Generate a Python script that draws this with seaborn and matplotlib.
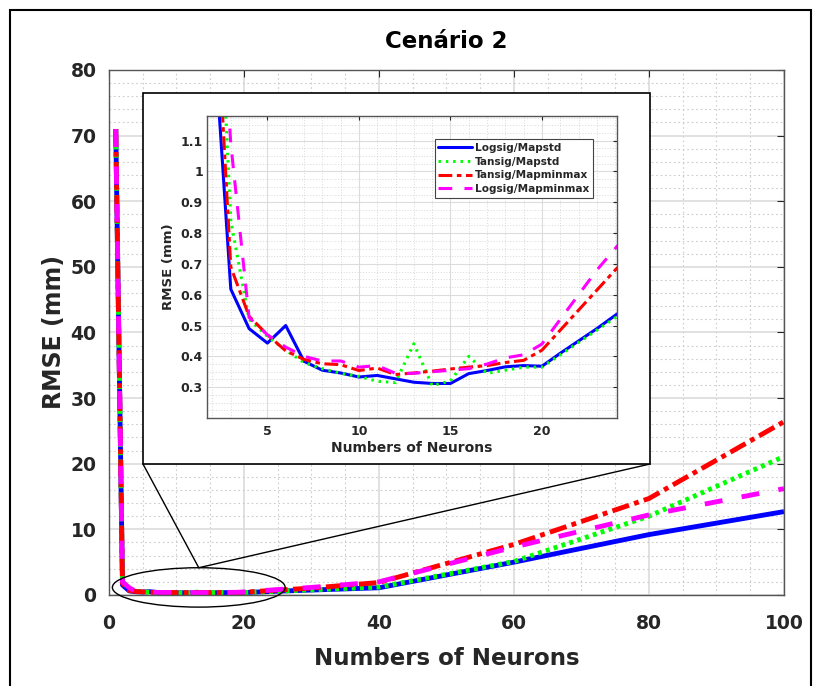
import matplotlib
matplotlib.use("Agg")
import matplotlib.pyplot as plt
import seaborn as sns
from matplotlib.lines import Line2D
from matplotlib.patches import ConnectionPatch, Ellipse, Rectangle
from matplotlib.ticker import MultipleLocator

# neurons in the hidden layer
neurons = [1, 2, 3, 4, 5, 6, 7, 8, 9, 10, 11, 12, 13, 14, 15, 16, 17, 18, 19, 20,
           21, 22, 23, 24, 25, 30, 40, 60, 80, 100]

logsig_mapstd = [71.0, 1.52, 0.618, 0.49, 0.443, 0.50, 0.384, 0.355, 0.346, 0.333,
                 0.338, 0.327, 0.316, 0.312, 0.312, 0.344, 0.354, 0.366, 0.37, 0.368,
                 0.41, 0.45, 0.49, 0.533, 0.575, 0.75, 1.1, 5.0, 9.2, 12.7]
tansig_mapstd = [71.0, 2.1, 0.84, 0.52, 0.465, 0.42, 0.38, 0.36, 0.345, 0.335,
                 0.319, 0.315, 0.441, 0.305, 0.32, 0.40, 0.345, 0.355, 0.365, 0.365,
                 0.405, 0.445, 0.485, 0.525, 0.57, 0.78, 1.2, 5.1, 12.0, 21.1]
tansig_mapminmax = [71.0, 1.78, 0.69, 0.53, 0.47, 0.418, 0.39, 0.376, 0.373, 0.354,
                    0.362, 0.341, 0.346, 0.352, 0.359, 0.365, 0.37, 0.38, 0.387, 0.42,
                    0.485, 0.55, 0.615, 0.68, 0.74, 1.05, 1.9, 7.7, 14.7, 26.4]
logsig_mapminmax = [71.0, 2.0, 1.09, 0.526, 0.47, 0.43, 0.40, 0.385, 0.385, 0.365,
                    0.37, 0.345, 0.345, 0.35, 0.355, 0.36, 0.375, 0.395, 0.405, 0.44,
                    0.52, 0.60, 0.68, 0.75, 0.82, 1.15, 2.0, 7.3, 12.2, 16.2]

series = [
    ("Logsig/Mapstd", logsig_mapstd, "#0000ff", "solid"),
    ("Tansig/Mapstd", tansig_mapstd, "#00ff00", "dotted"),
    ("Tansig/Mapminmax", tansig_mapminmax, "#ff0000", "dashdot"),
    ("Logsig/Mapminmax", logsig_mapminmax, "#ff00ff", "dashed"),
]
main_dashes = {"solid": None, "dotted": (0.8, 0.9), "dashdot": (3.6, 1.1, 1.0, 1.1),
               "dashed": (3.7, 4.0)}
inset_dashes = {"solid": None, "dotted": (0.8, 1.6), "dashdot": (4.5, 1.5, 1.5, 1.5),
                "dashed": (4.5, 4.0)}

sns.set_style("white")
plt.rcParams["font.family"] = ["DejaVu Sans"]
plt.rcParams["font.weight"] = "bold"

fig = plt.figure(figsize=(8.14, 6.86), dpi=100)
fig.patch.set_facecolor("white")
fig.add_artist(Rectangle((10 / 814, -0.01), 801 / 814, 1.01 - 10 / 686,
                         transform=fig.transFigure, fill=False, ec="black", lw=1.5))

ax = fig.add_axes([0.1339, 0.1327, 0.8292, 0.7653])


def style_axes(a, major_lw, minor_lw):
    a.grid(True, which="major", color="#dcdcdc", lw=major_lw, ls="-")
    a.grid(True, which="minor", color="#cccccc", lw=minor_lw, ls=(0, (1.5, 2.5)))
    a.set_axisbelow(True)
    for sp in a.spines.values():
        sp.set_color("#555555")
        sp.set_linewidth(1.0)
    a.tick_params(which="both", direction="in", top=True, right=True, colors="#262626")
    a.tick_params(which="minor", length=0)


for label, vals, color, style in series:
    sns.lineplot(x=neurons, y=vals, ax=ax, color=color, lw=3.5, label=label,
                 legend=False, sort=False)
    line = ax.lines[-1]
    if main_dashes[style] is not None:
        line.set_dashes(main_dashes[style])
    line.set_solid_capstyle("butt")
    line.set_dash_capstyle("butt")

ax.set_xlim(0, 100)
ax.set_ylim(0, 80)
ax.xaxis.set_major_locator(MultipleLocator(20))
ax.xaxis.set_minor_locator(MultipleLocator(5))
ax.yaxis.set_major_locator(MultipleLocator(10))
ax.yaxis.set_minor_locator(MultipleLocator(2))
style_axes(ax, 1.2, 0.8)
ax.tick_params(which="major", length=5, labelsize=13.5)
ax.tick_params(axis="x", pad=14)
ax.tick_params(axis="y", pad=9)
for t in ax.get_xticklabels() + ax.get_yticklabels():
    t.set_fontweight("bold")
    t.set_color("#262626")
ax.set_xlabel("Numbers of Neurons", fontsize=16.5, fontweight="bold", color="#262626",
              labelpad=10)
ax.set_ylabel("RMSE (mm)", fontsize=17, fontweight="bold", color="#262626", labelpad=3)
ax.set_title("Cenário 2", fontsize=16.5, fontweight="bold", color="black", pad=16)

# zoom marker on the main axes
ell_x, ell_y, ell_w, ell_h = 13.3, 1.15, 25.6, 6.0
ax.add_patch(Ellipse((ell_x, ell_y), ell_w, ell_h, fill=False, ec="black", lw=1.0,
                     clip_on=False, zorder=5))

# inset frame (pasted figure look)
box_l, box_b, box_r, box_t = 143 / 814, 222 / 686, 650 / 814, 593 / 686
fig.add_artist(Rectangle((box_l, box_b), box_r - box_l, box_t - box_b,
                         transform=fig.transFigure, fc="white", ec="black", lw=1.2,
                         zorder=3))
for corner in [(box_l, box_b), (box_r, box_b)]:
    con = ConnectionPatch(xyA=(ell_x, ell_y + ell_h / 2), coordsA=ax.transData,
                          xyB=corner, coordsB=fig.transFigure, color="black", lw=1.0,
                          zorder=2)
    fig.add_artist(con)

ins = fig.add_axes([0.2543, 0.3907, 0.5037, 0.4402], zorder=4)
ins.set_facecolor("white")
for label, vals, color, style in series:
    sns.lineplot(x=neurons, y=vals, ax=ins, color=color, lw=2.2, legend=False, sort=False)
    line = ins.lines[-1]
    if inset_dashes[style] is not None:
        line.set_dashes(inset_dashes[style])
    line.set_dash_capstyle("butt")

ins.set_xlim(1.7, 24.1)
ins.set_ylim(0.2, 1.18)
ins.xaxis.set_major_locator(MultipleLocator(5))
ins.xaxis.set_minor_locator(MultipleLocator(1))
ins.yaxis.set_major_locator(MultipleLocator(0.1))
ins.yaxis.set_minor_locator(MultipleLocator(0.025))
ins.set_yticks([0.3, 0.4, 0.5, 0.6, 0.7, 0.8, 0.9, 1.0, 1.1])
ins.set_yticklabels(["0.3", "0.4", "0.5", "0.6", "0.7", "0.8", "0.9", "1", "1.1"])
style_axes(ins, 0.8, 0.5)
ins.tick_params(which="major", length=3, labelsize=9)
ins.tick_params(axis="x", pad=5)
ins.tick_params(axis="y", pad=3)
for t in ins.get_xticklabels() + ins.get_yticklabels():
    t.set_fontweight("bold")
    t.set_color("#262626")
ins.set_xlabel("Numbers of Neurons", fontsize=10, fontweight="bold", color="#262626",
               labelpad=2)
ins.set_ylabel("RMSE (mm)", fontsize=9.5, fontweight="bold", color="#262626", labelpad=4)

handles = []
for label, vals, color, style in series:
    h = Line2D([], [], color=color, lw=2.2, label=label)
    if inset_dashes[style] is not None:
        h.set_dashes(inset_dashes[style])
    handles.append(h)
leg = ins.legend(handles=handles, loc="upper right", bbox_to_anchor=(0.955, 0.94),
                 frameon=True, fancybox=False, framealpha=1,
                 edgecolor="#444444", handlelength=3.2, handletextpad=0.3,
                 borderpad=0.35, labelspacing=0.35, prop={"weight": "bold", "size": 7.6})
leg.get_frame().set_linewidth(0.8)

fig.savefig("out.png", dpi=100)
